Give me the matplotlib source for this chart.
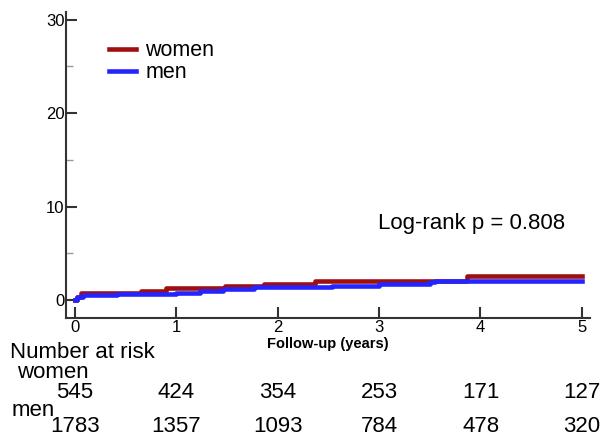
import matplotlib.pyplot as plt
from matplotlib.ticker import MultipleLocator

plt.rcParams['font.family'] = ['Liberation Sans', 'DejaVu Sans']

# cumulative incidence (%) step curves
women_t = [0, 0.02, 0.06, 0.65, 0.9, 1.48, 1.87, 2.37, 3.87, 5.0]
women_y = [0, 0.3, 0.7, 1.0, 1.24, 1.5, 1.7, 2.0, 2.55, 2.55]
men_t = [0, 0.02, 0.08, 0.42, 1.0, 1.23, 1.46, 1.77, 2.54, 3.0, 3.5, 3.55, 5.0]
men_y = [0, 0.3, 0.55, 0.65, 0.78, 0.99, 1.13, 1.35, 1.49, 1.67, 1.9, 2.0, 2.0]

risk_years = [0, 1, 2, 3, 4, 5]
women_risk = [545, 424, 354, 253, 171, 127]
men_risk = [1783, 1357, 1093, 784, 478, 320]

fig = plt.figure(figsize=(6.15, 4.37), dpi=100)
ax = fig.add_axes([0.107, 0.272, 0.852, 0.701])

ax.step(women_t, women_y, where='post', color='#a00f0f', lw=3.3, label='women')
ax.step(men_t, men_y, where='post', color='#2424ff', lw=3.3, label='men')

ax.set_xlim(-0.09, 5.08)
ax.set_ylim(-1.95, 30.85)
ax.set_xticks(risk_years)
ax.set_yticks([0, 10, 20, 30])
ax.yaxis.set_minor_locator(MultipleLocator(5))
ax.tick_params(direction='in', length=8, width=1.5, color='#333333', labelsize=12, pad=1)
ax.tick_params(axis='y', which='minor', direction='in', length=5, width=1, color='#999999')
for s in ['top', 'right']:
    ax.spines[s].set_visible(False)
for s in ['left', 'bottom']:
    ax.spines[s].set_linewidth(1.5)
    ax.spines[s].set_color('#333333')

ax.set_xlabel('Follow-up (years)', fontsize=10.5, fontweight='bold', labelpad=2)

ax.legend(loc='upper left', bbox_to_anchor=(0.045, 0.97), frameon=False, fontsize=15.5,
          handlelength=1.25, handletextpad=0.45, labelspacing=0.05)

ax.text(378 / 615, 1 - 229 / 437, 'Log-rank p = 0.808', transform=fig.transFigure,
        fontsize=16, va='baseline', ha='left')

# number at risk table
fig.text(10 / 615, 1 - 352 / 437, 'Number at risk', fontsize=16, va='center')
fig.text(17 / 615, 1 - 372 / 437, 'women', fontsize=16, va='center')
fig.text(12 / 615, 1 - 410 / 437, 'men', fontsize=16, va='center')
for x, w, m in zip(risk_years, women_risk, men_risk):
    ax.text(x, 0, str(w), transform=ax.get_xaxis_transform(), fontsize=16, ha='center', va='center')
    ax.text(x, 0, str(m), transform=ax.get_xaxis_transform(), fontsize=16, ha='center', va='center')

# move table rows to their pixel rows
for t, row in zip(ax.texts[1:], [392, 426] * 6):
    xd = t.get_position()[0]
    t.set_transform(fig.transFigure)
    t.set_position(((75 + xd * 101.4) / 615, 1 - row / 437))

fig.savefig('out.png', dpi=100)
